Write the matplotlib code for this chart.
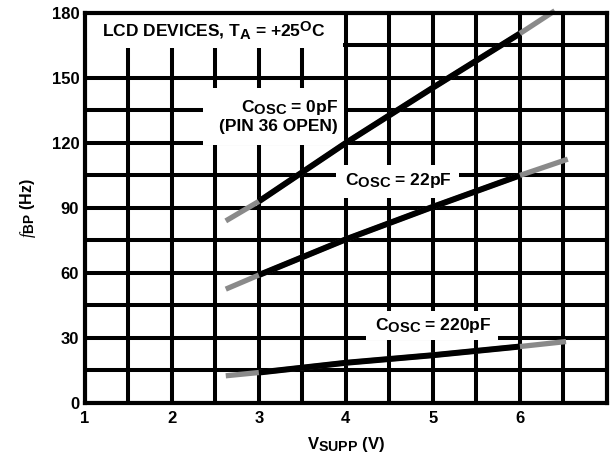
import numpy as np
import matplotlib.pyplot as plt
import matplotlib._mathtext as mathtext_internal
from matplotlib.patches import Rectangle

plt.rcParams['font.family'] = ['Liberation Sans', 'DejaVu Sans']
plt.rcParams['font.weight'] = 'bold'
plt.rcParams['axes.labelweight'] = 'bold'
plt.rcParams['mathtext.fontset'] = 'custom'
plt.rcParams['mathtext.rm'] = 'Liberation Sans:bold'
plt.rcParams['mathtext.bf'] = 'Liberation Sans:bold'
plt.rcParams['mathtext.it'] = 'Liberation Serif:style=italic:weight=normal'
# 아래첨자를 원본처럼 조금 크게
mathtext_internal.SHRINK_FACTOR = 0.85

# 곡선 데이터 (V_SUPP, f_BP) - 그림에서 읽은 값
v_0pf = [2.62, 3.0, 4.0, 5.0, 6.0, 6.4]
f_0pf = [84, 93, 120, 145.5, 170.5, 181]

v_22pf = [2.62, 3.0, 4.0, 5.0, 6.0, 6.55]
f_22pf = [52.5, 59, 75.5, 90.5, 105, 112.5]

v_220pf = [2.62, 3.0, 4.0, 5.0, 6.0, 6.53]
f_220pf = [12.5, 14, 18.5, 22, 26, 28.3]

x_ticks = [1, 2, 3, 4, 5, 6]
y_ticks = [0, 30, 60, 90, 120, 150, 180]

fig = plt.figure(figsize=(6.10, 4.62), dpi=100)
ax = fig.add_axes([0.139, 0.128, 0.856, 0.844])

ax.set_xlim(1, 7)
ax.set_ylim(0, 180)
ax.set_xticks(x_ticks)
ax.set_yticks(y_ticks)
ax.set_xticks(np.arange(1.5, 7.0, 1.0), minor=True)
ax.set_yticks(np.arange(15, 180, 30), minor=True)
ax.tick_params(which='both', length=0, labelsize=12)
ax.tick_params(axis='x', pad=6)
ax.tick_params(axis='y', pad=4)
ax.set_axisbelow(True)
ax.grid(which='both', color='black', linewidth=2.9)
for s in ax.spines.values():
    s.set_linewidth(3)

# 흰색 라벨 상자 (격자 가리기)
boxes = [(1.0, 164.0, 2.97, 16.0),
         (2.36, 119.0, 1.62, 26.5),
         (3.89, 94.5, 1.41, 15.5),
         (4.23, 28.8, 1.52, 13.8)]
for bx, by, bw, bh in boxes:
    ax.add_patch(Rectangle((bx, by), bw, bh, facecolor='white',
                           edgecolor='none', zorder=1))

# 곡선: 회색 전체 + 검은색 (3V ~ 6V)
for v, f in [(v_0pf, f_0pf), (v_22pf, f_22pf), (v_220pf, f_220pf)]:
    ax.plot(v, f, color='#8a8a8a', linewidth=3.8, solid_capstyle='butt',
            zorder=2, clip_on=False)
    ax.plot(v[1:5], f[1:5], color='black', linewidth=4.3,
            solid_capstyle='butt', zorder=2.1)

fs = 12.5
ax.text(2.48, 172, r'LCD DEVICES, T$_{\mathrm{A}}$ = +25$^{\mathrm{O}}$C',
        ha='center', va='center', fontsize=fs, zorder=3)
ax.text(3.91, 132.5, 'C$_{\\mathrm{OSC}}$ = 0pF\n(PIN 36 OPEN)',
        ha='right', va='center', multialignment='right', fontsize=fs,
        linespacing=1.2, zorder=3)
ax.text(4.6, 102.5, r'C$_{\mathrm{OSC}}$ = 22pF',
        ha='center', va='center', fontsize=fs, zorder=3)
ax.text(5.0, 35.5, r'C$_{\mathrm{OSC}}$ = 220pF',
        ha='center', va='center', fontsize=fs, zorder=3)

ax.set_xlabel(r'V$_{\mathrm{SUPP}}$ (V)', fontsize=12, labelpad=6)
ax.set_ylabel(r'$\mathit{f}_{\mathrm{BP}}$ (Hz)', fontsize=11.5, labelpad=10)

fig.savefig('out.png', dpi=100)
